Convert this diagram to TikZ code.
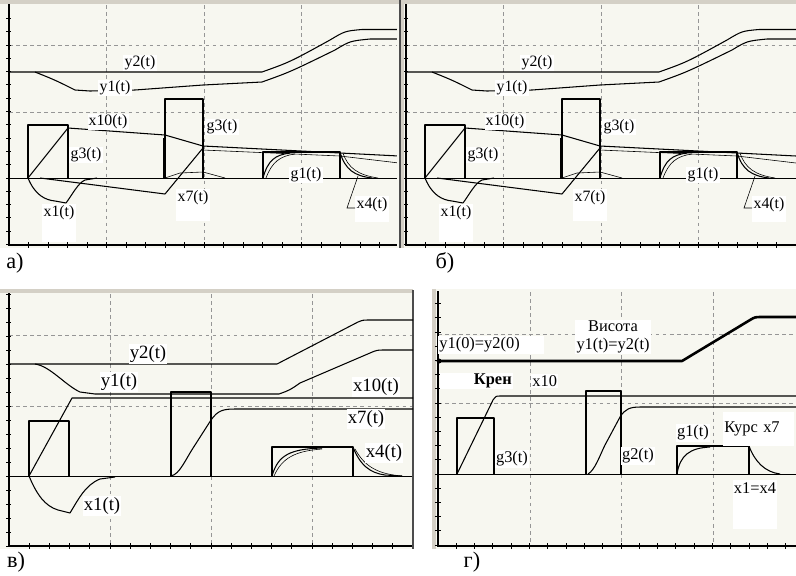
\documentclass[tikz,border=0pt]{standalone}
\usepackage{fontspec}
\setmainfont{Liberation Serif}
\definecolor{plotbg}{RGB}{247,247,240}
\definecolor{framebar}{RGB}{212,208,198}
\definecolor{gridgray}{RGB}{150,150,150}
\tikzset{
  curve/.style={black,line width=0.9pt,line join=round},
  thincurve/.style={black,line width=0.5pt},
  heavycurve/.style={black,line width=2.2pt,line join=round},
  gridline/.style={gridgray,dash pattern=on 3pt off 3pt,line width=0.5pt},
  axisline/.style={black,line width=1.2pt},
  tickmark/.style={black,line width=0.8pt},
  lbl/.style={fill=white,inner sep=1pt,font=\fontsize{13.5}{14}\selectfont},
  lblbig/.style={fill=white,inner sep=1pt,font=\fontsize{16}{17}\selectfont},
  lblmid/.style={fill=white,inner sep=1pt,font=\fontsize{14}{15.5}\selectfont},
  panelname/.style={font=\fontsize{19}{20}\selectfont}
}
\begin{document}
\begin{tikzpicture}[x=0.03cm,y=-0.03cm]
\useasboundingbox (0,0) rectangle (796,575);
\fill[white] (0,0) rectangle (796,575);

% panels a) and b) are the same plot
\foreach \dx/\id in {0/a,397/b}{
\begin{scope}[shift={(\dx,0)}]
\fill[plotbg] (0,0) rectangle (399,248);
\fill[framebar] (0,0) rectangle (399,4);
\draw[gridline] (106.5,5) -- (106.5,245) (204,5) -- (204,245) (301.5,5) -- (301.5,245);
\draw[gridline] (9,45.5) -- (399,45.5) (9,112) -- (399,112);
\draw[thincurve] (9,178) -- (399,178);
\foreach \k in {-5,...,12} \draw[tickmark] (6,178-13.3*\k) -- (11,178-13.3*\k);
\foreach \k in {1,...,19} \draw[tickmark] (9+19.5*\k,242) -- (9+19.5*\k,248);
\draw[axisline] (9,4) -- (9,245) -- (399,245);
% heights
\draw[curve] (9,72) -- (262,72) .. controls (290,62) .. (330,40) .. controls (345,31) .. (362,29.5) -- (399,29.5);
\draw[curve] (35,72) .. controls (55,80) .. (75,90) -- (90,91) -- (135,90) -- (203,85) -- (262,82) .. controls (290,72) .. (335,50) .. controls (350,41) .. (370,39) -- (399,39);
% pulses
\draw[curve] (28,178) -- (28,125) -- (68,125) -- (68,178);
\draw[curve] (165,178) -- (165,99) -- (203,99) -- (203,178);
\draw[thincurve] (163.5,178) -- (163.5,138);
\draw[curve] (263,178) -- (263,152) -- (340,152) -- (340,178);
% responses
\draw[curve] (28,178) -- (68,128) -- (165,135) -- (203,146) -- (399,156);
\draw[thincurve] (203,150) -- (340,156) -- (399,163);
\draw[curve] (28,178) .. controls (35,195) and (45,200) .. (55,201) -- (66,203) .. controls (72,195) and (78,183) .. (85,180) -- (97,178);
\draw[curve] (40,178) -- (165,194) -- (203,148);
\draw[thincurve] (165,178) -- (180,173) -- (203,172) -- (225,178);
\draw[curve] (263,178) .. controls (268,160) and (275,155) .. (290,153);
\draw[thincurve] (266,178) .. controls (272,162) and (280,156) .. (295,154);
\draw[curve] (340,152) .. controls (345,170) and (355,176) .. (372,178);
\draw[thincurve] (343,153) .. controls (348,168) and (358,175) .. (378,178);
% labels
\node[lbl] (y2\id) at (140,63) {y2(t)};
\node[lbl] (y1\id) at (115,88) {y1(t)};
\node[lbl] (x10\id) at (108,122) {x10(t)};
\node[lbl] (g3l\id) at (86,155) {g3(t)};
\node[lbl] (g3r\id) at (222,127) {g3(t)};
\node[lbl] (g1\id) at (306,175) {g1(t)};
\node[lbl,minimum height=33pt,text depth=20pt] (x1\id) at (59,223) {x1(t)};
\node[lbl,minimum height=28pt,text depth=15pt] (x7\id) at (193,205) {x7(t)};
\node[lbl,minimum height=23pt,text depth=11pt] (x4\id) at (372,209) {x4(t)};
\coordinate (x4tip\id) at (358,176);
\draw[thincurve] (x4tip\id) -- (347,208) -- (x4\id.west |- 347,208);
\end{scope}
}
\draw[black!70,line width=2pt] (400,0) -- (400,248);
\fill[framebar] (401,0) rectangle (404,248);
\draw[axisline] (406,4) -- (406,245);
\node[panelname] (pa) at (15,263) {а)};
\node[panelname] (pb) at (445,263) {б)};

% panel v)
\fill[plotbg] (0,290) rectangle (413,549);
\fill[framebar] (0,289) rectangle (413,293);
\draw[gridline] (110,294) -- (110,546) (211,294) -- (211,546) (312,294) -- (312,546);
\draw[gridline] (9,335) -- (413,335) (9,406) -- (413,406);
\draw[thincurve] (9,476) -- (413,476);
\foreach \k in {-5,...,13} \draw[tickmark] (6,476-14*\k) -- (11,476-14*\k);
\foreach \k in {1,...,19} \draw[tickmark] (9+20.2*\k,543) -- (9+20.2*\k,549);
\draw[axisline] (9,293) -- (9,546) -- (413,546);
\draw[black!70,line width=1pt] (413,290) -- (413,549);
\draw[curve] (9,364) -- (277,364) -- (358,322) .. controls (363,320) .. (370,320) -- (413,320);
\draw[curve] (35,364) .. controls (50,366) and (65,385) .. (80,392) -- (95,394) -- (279,394) .. controls (290,390) .. (300,383) -- (370,353) .. controls (377,350) .. (385,350) -- (413,350);
\draw[curve] (29,476) -- (29,421) -- (69,421) -- (69,476);
\draw[curve] (171,476) -- (171,392) -- (211,392) -- (211,476);
\draw[curve] (272,476) -- (272,447) -- (353,447) -- (353,476);
\draw[curve] (29,476) -- (72,398) -- (413,398);
\draw[curve] (29,476) .. controls (37,495) and (45,506) .. (58,510) -- (70,513) .. controls (78,500) and (85,485) .. (100,479) -- (115,477);
\draw[curve] (171,476) .. controls (180,474) and (185,460) .. (195,445) -- (211,420) .. controls (218,410) and (224,409) .. (235,409) -- (413,409);
\draw[curve] (272,476) .. controls (278,455) and (290,449) .. (322,448);
\draw[thincurve] (274,476) .. controls (282,458) and (295,451) .. (322,449);
\draw[curve] (353,447) .. controls (360,465) and (370,473) .. (385,475) -- (402,476);
\draw[thincurve] (355,449) .. controls (365,467) and (378,474) .. (402,476);
\node[lblbig] (y2c) at (148,354) {y2(t)};
\node[lblbig] (y1c) at (119,382) {y1(t)};
\node[lblbig] (x10c) at (376,387) {x10(t)};
\node[lblbig] (x7c) at (366,419) {x7(t)};
\node[lblbig] (x4c) at (384,453) {x4(t)};
\node[lblbig] (x1c) at (102,506) {x1(t)};
\node[panelname] (pc) at (16,562) {в)};

% panel g)
\fill[plotbg] (432,289) rectangle (796,549);
\fill[framebar] (432,289) rectangle (436,549);
\draw[gridline] (530,292) -- (530,546) (621,292) -- (621,546) (713,292) -- (713,546);
\draw[gridline] (438,334) -- (796,334) (438,403) -- (796,403);
\draw[thincurve] (438,474) -- (796,474);
\foreach \k in {-5,...,12} \draw[tickmark] (435,474-14.2*\k) -- (441,474-14.2*\k);
\foreach \k in {1,...,19} \draw[tickmark] (438+18.3*\k,543) -- (438+18.3*\k,549);
\draw[axisline] (438,291) -- (438,546) -- (796,546);
\draw[heavycurve] (438,361) -- (682,361) -- (750,320) .. controls (755,317) .. (762,317) -- (796,317);
\fill (439,361) circle[radius=2.5];
\draw[curve] (457,474) -- (457,418) -- (494,418) -- (494,474);
\draw[heavycurve,line width=1.6pt] (457,418) -- (494,418);
\draw[curve] (586,474) -- (586,391) -- (621,391) -- (621,474);
\draw[curve] (677,474) -- (677,446) -- (749,446) -- (749,474);
\draw[curve] (457,474) -- (493,400) .. controls (496,396) .. (500,396) -- (796,396);
\draw[curve] (588,474) .. controls (595,470) and (600,455) .. (605,445) -- (620,417) .. controls (625,409) and (630,407) .. (640,407) -- (796,407);
\draw[curve] (677,474) .. controls (680,455) and (690,448) .. (710,447);
\draw[curve] (749,446) .. controls (755,462) and (765,472) .. (780,474);
\node[lblmid,anchor=west,text width=88pt,align=left] (y0d) at (438,345) {y1(0)=y2(0)};
\node[lblmid,align=center] (hd) at (613,337) {Висота\\y1(t)=y2(t)};
\node[lblmid,anchor=west,text width=60pt,align=right,font=\fontsize{14}{15.5}\selectfont\bfseries] (kd) at (440,381) {Крен};
\node[lblmid,anchor=west] (x10d) at (531,381) {x10};
\node[lblmid] (g3d) at (512,459) {g3(t)};
\node[lblmid] (g2d) at (638,456) {g2(t)};
\node[lblmid] (g1d) at (693,433) {g1(t)};
\node[lblmid,anchor=north west,text width=58pt,minimum height=29pt,align=left] (kx7d) at (723,412) {Курс x7};
\node[lblmid,anchor=north,minimum width=32pt,minimum height=42pt,text depth=28pt] (x14d) at (755,480) {x1=x4};
\node[panelname] (pd) at (472,562) {г)};
\end{tikzpicture}
\end{document}
